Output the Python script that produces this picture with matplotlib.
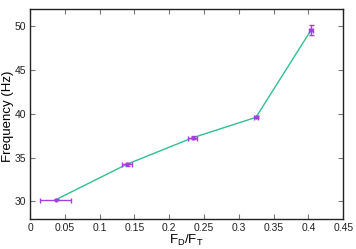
import matplotlib
matplotlib.use("Agg")
import matplotlib.pyplot as plt

ratio = [0.037, 0.139, 0.2335, 0.3245, 0.404]
freq = [30.2, 34.24, 37.27, 39.6, 49.6]
ratio_err = [0.0225, 0.007, 0.006, 0.003, 0.003]
freq_err = [0.05, 0.15, 0.18, 0.12, 0.55]
xticks = [0, 0.05, 0.1, 0.15, 0.2, 0.25, 0.3, 0.35, 0.4, 0.45]
xticklabels = ["0", "0.05", "0.1", "0.15", "0.2", "0.25", "0.3", "0.35", "0.4", "0.45"]
yticks = [30, 35, 40, 45, 50]

plt.rcParams['font.family'] = ['Liberation Sans', 'DejaVu Sans']
fig = plt.figure(figsize=(3.56, 2.49), dpi=100)
ax = fig.add_axes([0.0843, 0.1205, 0.880, 0.8445])

ax.plot(ratio, freq, color='#30c090', lw=1.0, zorder=2)
ax.errorbar(ratio, freq, xerr=ratio_err, yerr=freq_err, fmt='o', ms=2,
            color='#a040e0', ecolor='#a040e0', elinewidth=1.0, capsize=1.8,
            capthick=1.0, zorder=3)

ax.set_xlim(0, 0.45)
ax.set_ylim(28, 52)
ax.set_xticks(xticks)
ax.set_xticklabels(xticklabels)
ax.set_yticks(yticks)
ax.tick_params(direction='in', length=3.5, width=0.8, color='#777777',
               labelsize=7.5, top=True, right=True, pad=3, labelcolor='#222222')
for s in ax.spines.values():
    s.set_linewidth(1.0)
    s.set_color('#222222')
ax.set_xlabel(r'F$_\mathregular{D}$/F$_\mathregular{T}$', fontsize=9.5)
ax.set_ylabel('Frequency (Hz)', fontsize=9.5)
ax.yaxis.set_label_coords(-0.052, 0.49)
ax.xaxis.set_label_coords(0.5, -0.064)

fig.savefig('out.png', dpi=100)
